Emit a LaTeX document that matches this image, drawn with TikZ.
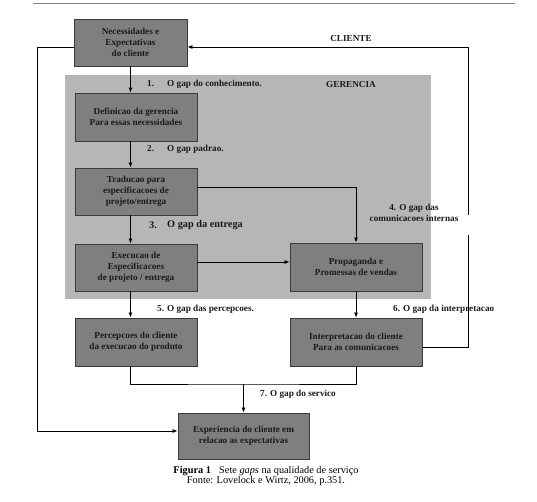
\documentclass[tikz,border=0pt]{standalone}
\usepackage{fontspec}
\setmainfont{Liberation Serif}
\usepackage{tikz}
\usetikzlibrary{arrows.meta}

\definecolor{boxgray}{HTML}{7F7F7F}
\definecolor{areagray}{HTML}{B6B6B6}
\definecolor{edgegray}{HTML}{3A3A3A}
\definecolor{inkgray}{HTML}{1A1A1A}

\tikzset{
  gapbox/.style={draw=edgegray, fill=boxgray, line width=0.9pt, align=center,
    text=inkgray, font=\fontsize{9.2}{11.3}\selectfont\bfseries, inner sep=0pt},
  gaplabel/.style={anchor=west, inner sep=0pt, text=inkgray,
    font=\fontsize{9.2}{10.8}\selectfont\bfseries},
  flow/.style={line width=0.8pt, -{Latex[length=5pt,width=4pt]}},
  plain/.style={line width=0.8pt}
}

\begin{document}
\begin{tikzpicture}[x=1pt, y=-1pt]
      \useasboundingbox (0,0) rectangle (537,501);
      \draw [gray, line width=1pt] (33,3.7) -- (515,3.7);
      \fill [areagray] (65,75) rectangle (431,299);

      \node [gapbox, minimum width=113pt, minimum height=47pt] (necess) at (130.5,42.5) {Necessidades e\\Expectativas\\do cliente};
      \node [gapbox, minimum width=122pt, minimum height=48pt] (defin) at (136,117) {Definicao da gerencia\\Para essas necessidades};
      \node [gapbox, minimum width=122pt, minimum height=47pt] (trad) at (136,191.5) {Traducao para\\especificacoes de\\projeto/entrega};
      \node [gapbox, minimum width=122pt, minimum height=47pt] (exec) at (136,267.5) {Execucao de\\Especificacoes\\de projeto / entrega};
      \node [gapbox, minimum width=132pt, minimum height=48pt] (prop) at (356,267) {Propaganda e\\Promessas de vendas};
      \node [gapbox, minimum width=122pt, minimum height=48pt] (percep) at (136,342) {Percepcoes do cliente\\da execucao do produto};
      \node [gapbox, minimum width=132pt, minimum height=48pt] (interp) at (356,342) {Interpretacao do cliente\\Para as comunicacoes};
      \node [gapbox, minimum width=131pt, minimum height=46pt] (exper) at (243.5,436) {Experiencia do cliente em\\relacao as expectativas};

      \node [gaplabel, anchor=center] (cliente) at (351,38) {CLIENTE};
      \node [gaplabel, anchor=center] (gerencia) at (351,84) {GERENCIA};
      \node [gaplabel] (n1) at (147,84) {1.};
      \node [gaplabel] (g1) at (167,84) {O gap do conhecimento.};
      \node [gaplabel] (n2) at (147,149) {2.};
      \node [gaplabel] (g2) at (167,149) {O gap padrao.};
      \node [gaplabel, font=\fontsize{10.3}{11}\selectfont\bfseries] (n3) at (149,225) {3.};
      \node [gaplabel, font=\fontsize{10.3}{11}\selectfont\bfseries] (g3) at (167,225) {O gap da entrega};
      \node [gaplabel, anchor=center, align=center] (g4) at (414,212.5) {4. O gap das\\comunicacoes internas};
      \node [gaplabel] (g5) at (157,309) {5. O gap das percepcoes.};
      \node [gaplabel] (g6) at (393,309) {6. O gap da interpretacao};
      \node [gaplabel] (g7) at (260,394) {7. O gap do servico};

      \coordinate (rtop) at (468,47);
      \coordinate (gaphi) at (468,215);
      \coordinate (gaplo) at (468,235);
      \coordinate (lside) at (37,47);
      \coordinate (merge) at (243.5,384);

      \draw [flow] (necess.south) -- (necess.south |- defin.north);
      \draw [flow] (necess.south |- defin.south) -- (necess.south |- trad.north);
      \draw [flow] (necess.south |- trad.south) -- (necess.south |- exec.north);
      \draw [flow] (necess.south |- exec.south) -- (necess.south |- percep.north);
      \draw [flow] ([yshift=4.5pt]trad.east) -| (prop.north);
      \draw [flow] ([yshift=5.5pt]exec.east) -- ([yshift=5.5pt]exec.east -| prop.west);
      \draw [flow] (prop.south) -- (interp.north);
      \draw [plain] (necess.south |- percep.south) |- (merge) -| (interp.south);
      \draw [flow] (merge) -- (exper.north);
      \draw [plain] ([yshift=-5pt]interp.east) -| (gaplo);
      \draw [flow] (gaphi) -- (rtop) -- (rtop -| necess.east);
      \draw [flow] (lside -| necess.west) -- (lside) |- ([yshift=5pt]exper.west);

      \node [inner sep=0pt, font=\fontsize{10.3}{11}\selectfont] (cap1) at (266,471) {\textbf{Figura 1}\hspace{0.8em}Sete \textit{gaps} na qualidade de serviço};
      \node [inner sep=0pt, font=\fontsize{10.3}{11}\selectfont] (cap2) at (266,481) {Fonte: Lovelock e Wirtz, 2006, p.351.};
\end{tikzpicture}
\end{document}
